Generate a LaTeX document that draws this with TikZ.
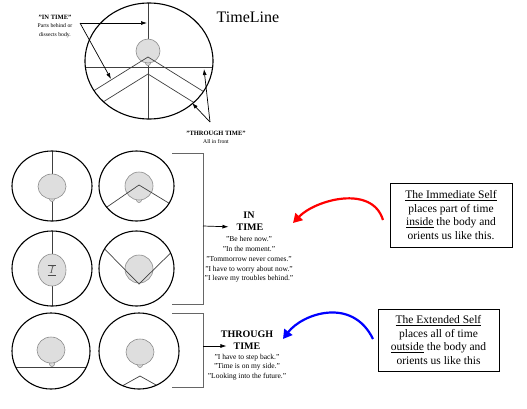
\documentclass[tikz,border=0pt]{standalone}
\usepackage{fontspec}
\setmainfont{Liberation Serif}
\usetikzlibrary{arrows.meta}

\begin{document}
\begin{tikzpicture}[x=1pt,y=-1pt,
            body/.style={draw, line width=1.1pt},
            cut/.style={draw=black!75, line width=0.7pt},
            self/.style={draw=black!45, fill=black!13, line width=0.6pt},
            brak/.style={draw=black!60, line width=0.8pt},
            ptr/.style={line width=0.7pt, -{Latex[length=6pt,width=4pt]}},
            lab/.style={align=center, font=\fontsize{5.7}{8.5}\selectfont, inner sep=0pt},
            hd/.style={font=\fontsize{10}{11}\selectfont\bfseries, inner sep=1pt},
            quote/.style={align=center, font=\fontsize{7.5}{9.8}\selectfont, inner sep=0pt},
            note/.style={draw, line width=1pt, align=center, minimum width=122, minimum height=64,
                         inner sep=2pt, font=\fontsize{11.5}{13.8}\selectfont}]
        \useasboundingbox (0,0) rectangle (527,408);

        % big timeline figure
        \begin{scope}
            \clip (149,61) ellipse [x radius=64pt, y radius=58pt];
            \draw[cut] (148,0) -- (148,125);
            \draw[self] (148,63) circle [radius=2.5pt];
            \draw[self] (148,51) circle [radius=12pt];
            \draw[cut] (80,67) -- (220,67);
            \draw[cut] (50,118) -- (148,57) -- (246,118);
            \draw[cut] (50,135) -- (148,74) -- (246,135);
        \end{scope}
        \draw[body] (149,61) ellipse [x radius=64pt, y radius=58pt];
        \node[font=\fontsize{16}{16}\selectfont] (title) at (248,17) {TimeLine};

        \node[lab] (inlab) at (55,26) {{\fontsize{6.5}{8.5}\selectfont\bfseries "IN TIME"}\\ Parts behind or\\ dissects body.};
        \coordinate (inpt) at (80,23);
        \coordinate (inA) at (147,23);
        \coordinate (inB) at (111,79);
        \draw[ptr] (inpt) -- (inA);
        \draw[ptr] (inpt) -- (inB);

        \node[lab] (thlab) at (216,137.5) {{\fontsize{6.5}{8.5}\selectfont\bfseries "THROUGH TIME"}\\ All in front};
        \coordinate (thpt) at (210,122);
        \coordinate (thA) at (204,69);
        \coordinate (thB) at (192,103);
        \draw[ptr] (thpt) -- (thA);
        \draw[ptr] (thpt) -- (thB);

        % in time: four bodies
        \draw[cut] (52,151) -- (52,221);
        \draw[self] (52,199) circle [radius=2.5pt];
        \draw[self] (52,186.5) ellipse [x radius=14pt, y radius=12.5pt];
        \draw[body] (52,186) ellipse [x radius=40pt, y radius=35pt];

        \begin{scope}
            \clip (136.5,186) ellipse [x radius=37.5pt, y radius=35pt];
            \draw[self] (139,200) circle [radius=2.5pt];
            \draw[self] (139,186) circle [radius=14pt];
            \draw[cut] (91,218) -- (139,185) -- (188.5,215);
        \end{scope}
        \draw[body] (136.5,186) ellipse [x radius=37.5pt, y radius=35pt];

        \draw[cut] (52,231) -- (52,306);
        \draw[self] (52,270) ellipse [x radius=14pt, y radius=16pt];
        \node[text=black!70, font=\fontsize{10}{10}\selectfont] (eye) at (52,270) {$\overline{\underline{\,I\,}}$};
        \draw[body] (52,268.5) ellipse [x radius=40pt, y radius=37.5pt];

        \begin{scope}
            \clip (136.5,268.5) ellipse [x radius=37.5pt, y radius=37.5pt];
            \draw[self] (139,269) circle [radius=14pt];
            \draw[cut] (89,233) -- (139,284) -- (189,235);
        \end{scope}
        \draw[body] (136.5,268.5) ellipse [x radius=37.5pt, y radius=37.5pt];

        % through time: two bodies
        \begin{scope}
            \clip (51,351) ellipse [x radius=39pt, y radius=38pt];
            \draw[self] (52,364) circle [radius=2.5pt];
            \draw[self] (51,350) ellipse [x radius=14pt, y radius=13pt];
            \draw[cut] (0,367) -- (100,367);
        \end{scope}
        \draw[body] (51,351) ellipse [x radius=39pt, y radius=38pt];

        \begin{scope}
            \clip (139,351) ellipse [x radius=40pt, y radius=38pt];
            \draw[self] (140,365) circle [radius=2.5pt];
            \draw[self] (140,352) ellipse [x radius=14pt, y radius=13pt];
            \draw[cut] (90,404) -- (140,376) -- (190,404);
        \end{scope}
        \draw[body] (139,351) ellipse [x radius=40pt, y radius=38pt];

        % brackets
        \draw[brak] (172,153) -- (203,153) -- (203,304) -- (172,304);
        \draw[brak] (172,313) -- (203,313) -- (203,387) -- (172,387);
        \coordinate (inbr) at (203,226);
        \coordinate (thbr) at (203,346);

        \node[hd] (inhd) at (249,215) {IN};
        \node[hd] (intm) at (250,227) {TIME};
        \node[quote] (inq) at (249,259.5) {"Be here now."\\ "In the moment."\\ "Tommorrow never comes."\\ "I have to worry about now."\\ "I leave my troubles behind."};
        \draw[ptr, shorten >=7pt] (inbr) -- (intm.west);

        \node[hd] (thhd) at (247,334) {THROUGH};
        \node[hd] (thtm) at (247,346) {TIME};
        \node[quote] (thq) at (247,367) {"I have to step back."\\ "Time is on my side."\\ "Looking into the future."};
        \draw[ptr, shorten >=6pt] (thbr) -- (thtm.west);

        % the two selves
        \node[note] (imm) at (451,215) {\underline{The Immediate Self}\\ places part of time\\ \underline{inside} the body and\\ orients us like this.};
        \node[note, minimum width=121, minimum height=62] (ext) at (438.5,340) {\underline{The Extended Self}\\ places all of time\\ \underline{outside} the body and\\ orients us like this};

        \coordinate (rdst) at (383,220);
        \coordinate (rdend) at (293,223);
        \draw[red, line width=2.2pt, -{Triangle[length=9pt,width=10pt]}] (rdst) .. controls (372,184) and (315,200) .. (rdend);
        \coordinate (blst) at (373,339);
        \coordinate (blend) at (283,339);
        \draw[blue, line width=2.2pt, -{Triangle[length=9pt,width=10pt]}] (blst) .. controls (352,296) and (302,314) .. (blend);
    \end{tikzpicture}
\end{document}
